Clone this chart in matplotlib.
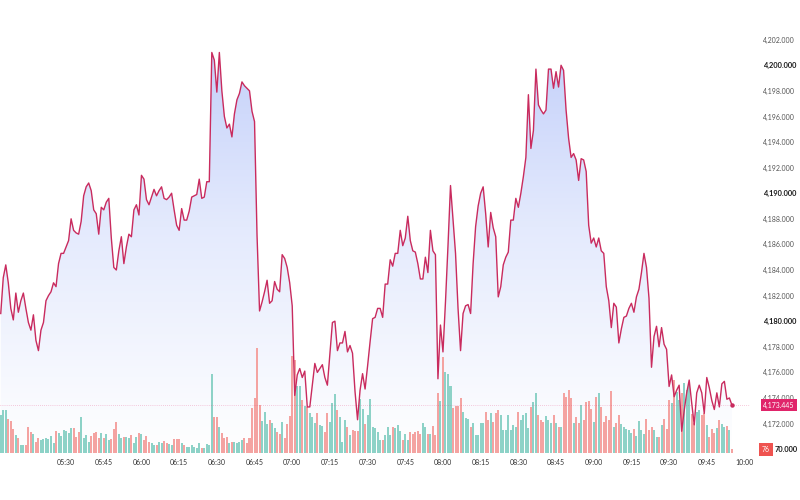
import numpy as np
import matplotlib.pyplot as plt
from matplotlib import transforms
from matplotlib.colors import LinearSegmentedColormap

plt.rcParams['font.family'] = ['Lato', 'DejaVu Sans']

# one close price and one volume per minute, starting at 05:04
start_time = "05:04"

prices = [
    4180.6, 4183.4, 4184.4, 4183.0, 4181.0, 4180.1, 4182.2, 4180.7, 4181.6, 4182.2,
    4181.0, 4179.9, 4179.3, 4180.5, 4178.5, 4177.7, 4179.3, 4179.9, 4181.6, 4182.0,
    4182.3, 4183.0, 4182.7, 4184.5, 4185.3, 4185.3, 4185.8, 4186.3, 4188.0, 4187.1,
    4186.9, 4186.8, 4187.8, 4189.8, 4190.5, 4190.8, 4190.2, 4188.7, 4188.4, 4186.8,
    4188.9, 4188.7, 4189.3, 4189.6, 4186.5, 4184.2, 4184.0, 4185.5, 4186.6, 4184.5,
    4185.8, 4186.8, 4186.6, 4188.7, 4189.1, 4188.3, 4191.4, 4191.1, 4189.5, 4189.1,
    4189.7, 4190.3, 4189.8, 4190.2, 4190.5, 4189.6, 4189.5, 4189.7, 4190.0, 4188.7,
    4187.5, 4187.1, 4188.8, 4187.9, 4187.9, 4188.6, 4189.7, 4189.8, 4189.9, 4191.1,
    4189.6, 4189.7, 4190.9, 4190.9, 4201.0, 4200.4, 4197.9, 4201.0, 4198.0, 4196.0,
    4195.1, 4195.4, 4194.4, 4196.2, 4197.3, 4197.8, 4198.7, 4198.4, 4198.2, 4198.0,
    4196.4, 4195.6, 4186.7, 4180.8, 4181.5, 4182.3, 4183.2, 4181.4, 4181.6, 4183.1,
    4182.5, 4182.3, 4185.2, 4184.9, 4184.2, 4183.0, 4181.2, 4174.2, 4175.8, 4176.3,
    4175.6, 4176.1, 4173.3, 4173.3, 4175.0, 4176.7, 4176.0, 4176.3, 4176.6, 4175.6,
    4175.0, 4177.5, 4179.9, 4180.0, 4177.7, 4178.3, 4178.3, 4179.2, 4177.6, 4178.1,
    4177.5, 4174.5, 4172.3, 4174.6, 4175.9, 4174.7, 4176.5, 4178.4, 4180.2, 4180.3,
    4181.0, 4181.0, 4180.3, 4182.9, 4182.9, 4184.8, 4184.3, 4185.3, 4185.3, 4187.1,
    4185.9, 4186.5, 4188.2, 4186.3, 4185.5, 4185.4, 4184.5, 4183.3, 4183.3, 4185.0,
    4183.8, 4187.1, 4185.5, 4185.2, 4175.5, 4179.7, 4177.6, 4181.5, 4185.9, 4190.6,
    4188.0, 4185.3, 4181.0, 4177.7, 4180.6, 4181.2, 4181.3, 4180.6, 4184.5, 4187.4,
    4189.0, 4190.0, 4190.5, 4188.4, 4185.8, 4188.5, 4187.3, 4186.6, 4181.9, 4182.7,
    4184.4, 4185.0, 4185.4, 4187.9, 4187.9, 4189.6, 4188.9, 4190.0, 4191.3, 4192.8,
    4197.7, 4193.5, 4194.9, 4199.7, 4196.9, 4196.5, 4196.2, 4196.5, 4199.7, 4199.7,
    4198.2, 4199.5, 4198.3, 4200.0, 4199.6, 4196.5, 4194.3, 4192.8, 4193.1, 4192.6,
    4191.0, 4192.7, 4192.6, 4191.7, 4187.5, 4186.1, 4186.5, 4185.8, 4186.5, 4185.5,
    4185.3, 4182.7, 4181.6, 4179.5, 4181.4, 4181.1, 4178.3, 4179.4, 4180.3, 4180.4,
    4181.0, 4181.4, 4180.7, 4181.9, 4182.5, 4183.8, 4185.3, 4184.2, 4181.8, 4176.4,
    4178.8, 4179.6, 4178.0, 4179.5, 4178.2, 4177.8, 4174.9, 4175.8, 4174.1, 4174.6,
    4175.0, 4171.4, 4173.0, 4174.4, 4175.4, 4173.6, 4171.9, 4174.4, 4175.0, 4174.4,
    4172.8, 4175.6, 4174.8, 4173.8, 4173.1, 4174.4, 4173.3, 4175.1, 4175.3, 4173.9,
    4174.0, 4173.445,
]

volumes = [
    38, 43, 43, 34, 32, 24, 18, 15, 8, 8, 8,
    26, 21, 19, 11, 15, 13, 14, 15, 14, 17,
    10, 22, 20, 17, 23, 22, 20, 25, 25, 16,
    21, 36, 15, 18, 11, 17, 20, 21, 15, 20,
    15, 19, 13, 14, 24, 31, 19, 15, 16, 16,
    15, 18, 10, 16, 20, 19, 13, 17, 11, 10,
    8, 8, 11, 10, 12, 10, 9, 8, 14, 14,
    14, 10, 8, 6, 6, 8, 6, 5, 10, 5,
    5, 9, 8, 79,
    36, 36, 26, 20, 15, 16, 10, 11, 11, 10, 11, 13, 15, 10, 15, 45, 55, 105,
    48, 32, 41, 29, 33,
    30, 25, 21, 19, 31, 15, 29, 37, 97, 93,
    67, 67, 53, 47, 46, 40, 36, 30, 40, 28,
    27, 21, 40, 31, 50, 59, 43, 36, 11, 33,
    26, 18, 23, 22, 22, 54, 44, 29, 38, 54,
    26, 25, 21, 13, 13, 18, 26, 18, 26, 25,
    28, 22, 13, 19, 13, 21, 19, 21, 22, 19,
    30, 26, 19, 19, 27, 18, 60, 52, 96, 81,
    79, 67, 45, 47, 47, 55, 41, 35, 34, 26,
    30, 18, 18, 30, 30, 41, 33, 40, 31, 40,
    43, 38, 23, 23, 38, 23, 28, 26, 41, 33,
    38, 40, 25, 46, 51, 60, 38, 33, 31, 37,
    33, 30, 38, 30, 26, 26, 60, 56, 63, 55,
    30, 36, 30, 48, 33, 51, 52, 44, 31, 56,
    60, 46, 31, 37, 33, 62, 26, 30, 38, 29,
    26, 24, 23, 20, 24, 17, 32, 23, 19, 34,
    23, 26, 23, 16, 16, 28, 34, 24, 53, 50,
    73, 61, 53, 60, 70, 63, 70, 39, 30, 41,
    43, 38, 40, 28, 16, 24, 20, 25, 33, 29,
    26, 27, 23, 4,
]

time_ticks = ["05:30", "05:45", "06:00", "06:15", "06:30", "06:45", "07:00",
              "07:15", "07:30", "07:45", "08:00", "08:15", "08:30", "08:45",
              "09:00", "09:15", "09:30", "09:45", "10:00"]
price_ticks = list(range(4170, 4204, 2))
last_volume_label = "76"


def to_minutes(s):
    h, m = s.split(":")
    return int(h) * 60 + int(m)


t0 = to_minutes(start_time)
t = t0 + np.arange(len(prices))
p = np.array(prices)
v = np.array(volumes)

xlim = (303.7, 602.2)
ylim = (4169.7, 4205.1)

fig = plt.figure(figsize=(8, 5), dpi=100)
rect = [0, 47 / 500, 750 / 800, 453 / 500]
ax = fig.add_axes(rect)                                   # gradient area + ticks
axv = fig.add_axes(rect, sharex=ax, facecolor='none')     # volume bars
axl = fig.add_axes(rect, sharex=ax, sharey=ax, facecolor='none')  # price line

ax.set_xlim(xlim)
ax.set_ylim(ylim)

# area fill with a vertical gradient, clipped to the area under the line
cmap = LinearSegmentedColormap.from_list('area', ['#ffffff', '#e4eafd', '#bccaf9'])
grad = np.linspace(0, 1, 256).reshape(-1, 1)
im = ax.imshow(grad, extent=[xlim[0], xlim[1], ylim[0], ylim[1]],
               origin='lower', aspect='auto', cmap=cmap, zorder=1)
poly = ax.fill_between(t, p, ylim[0], color='none', lw=0)
im.set_clip_path(poly.get_paths()[0], transform=ax.transData)

# volume
up = np.diff(p, prepend=p[0]) >= 0
colors = np.where(up, '#8dd2c7', '#f4a3a1')
axv.bar(t, v, width=0.8, color=colors, linewidth=0)
axv.set_ylim(0, 453)
axv.axis('off')

# price line
axl.plot(t, p, color='#c92b5e', lw=1.0, solid_joinstyle='round')
axl.plot(t[-1], p[-1], 'o', ms=2.2, color='#c92b5e')
axl.axhline(p[-1], color='#e0246a', lw=0.5, ls=(0, (1, 2)), alpha=0.45)
axl.axis('off')

for s in ax.spines.values():
    s.set_visible(False)

ax.set_xticks([to_minutes(s) for s in time_ticks])
ax.set_xticklabels(time_ticks)
ax.tick_params(axis='x', length=0, pad=4, labelsize=5, labelcolor='#333333')

# the lowest level is partly hidden behind the volume badge, drawn below
ax.yaxis.tick_right()
ax.set_yticks(price_ticks[1:])
ax.set_yticklabels([f"{x:,.3f}" for x in price_ticks[1:]])
ax.tick_params(axis='y', length=0, pad=9.5, labelsize=5, labelcolor='#555555')
for lbl, val in zip(ax.get_yticklabels(), price_ticks[1:]):
    if val % 10 == 0:
        lbl.set_fontweight('bold')
        lbl.set_color('#1a1a1a')
        lbl.set_fontsize(5.4)

# last price and volume badges on the price scale
tr = transforms.blended_transform_factory(fig.transFigure, ax.transData)
fig.text(763 / 800, p[-1], f"{p[-1]:,.3f}", transform=tr, ha='left', va='center',
         fontsize=5, color='white',
         bbox=dict(boxstyle='square,pad=0.35', fc='#e0246a', ec='none'))
fig.text(762 / 800, price_ticks[0], last_volume_label, transform=tr,
         ha='left', va='center', fontsize=5, color='white',
         bbox=dict(boxstyle='square,pad=0.45', fc='#ef5350', ec='none'))
fig.text(775 / 800, price_ticks[0], f"{price_ticks[0]:,.3f}"[3:], transform=tr,
         ha='left', va='center', fontsize=5.4, fontweight='bold', color='#1a1a1a')

fig.savefig('out.png', dpi=100)
